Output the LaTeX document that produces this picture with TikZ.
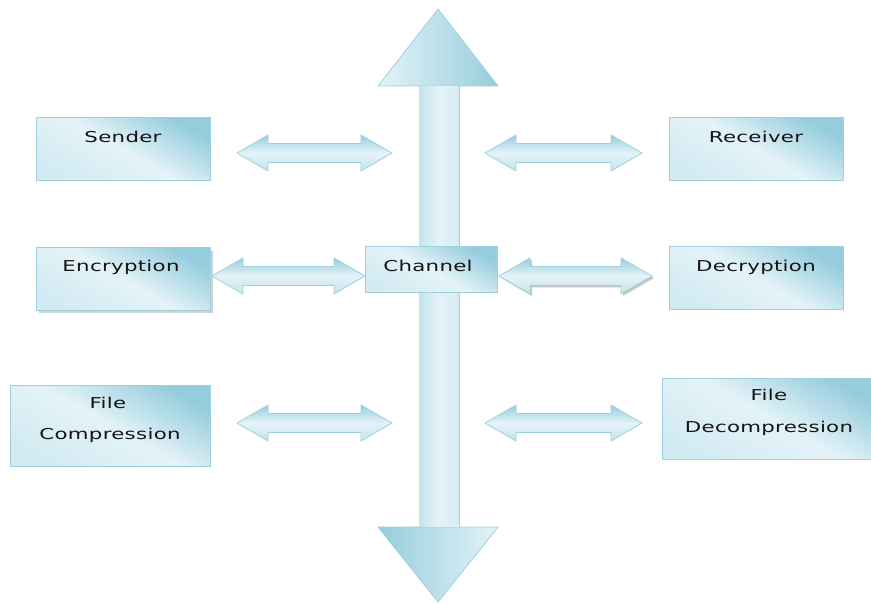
\documentclass[tikz,border=0pt]{standalone}
\usepackage{fontspec}
\newfontfamily\labfont[FakeStretch=1.42, LetterSpace=2]{DejaVu Sans}
\definecolor{edge}{RGB}{158,208,222}
\definecolor{bdark}{RGB}{150,205,221}
\definecolor{bmid}{RGB}{196,228,237}
\definecolor{blight}{RGB}{228,243,248}
\definecolor{txt}{RGB}{20,20,20}
\tikzset{
  box/.style={draw=edge, line width=1pt, inner sep=0pt, top color=bdark, bottom color=bmid!55!blight, middle color=blight, shading angle=-30},
  lbl/.style={font=\labfont\fontsize{15}{18}\selectfont, text=txt, anchor=base, inner sep=0pt},
  harr/.style={draw=edge, line width=0.8pt, top color=bdark, bottom color=bmid, middle color=blight},
  vshaft/.style={draw=edge, line width=0.8pt, left color=bmid, right color=blight!60!bmid, middle color=blight},
  headup/.style={draw=edge, line width=0.8pt, left color=blight, right color=bdark},
  headdown/.style={draw=edge, line width=0.8pt, left color=bdark, right color=blight},
  shadowc/.style={fill=black!22},
}
\newcommand\hdbl[4]{%
  \path[#4] (#1,#3) -- (#1+31,#3-18) -- (#1+31,#3-9.5) -- (#2-31,#3-9.5) -- (#2-31,#3-18)
    -- (#2,#3) -- (#2-31,#3+18) -- (#2-31,#3+9.5) -- (#1+31,#3+9.5) -- (#1+31,#3+18) -- cycle;}
\begin{document}
\begin{tikzpicture}[x=1pt,y=-1pt]
\useasboundingbox (0,0) rectangle (871,604);
% vertical channel arrow
\path[vshaft] (419,85) rectangle (459,528);
\path[headup] (438,9) -- (498,86) -- (378,86) -- cycle;
\path[headdown] (438,602) -- (378,527) -- (498,527) -- cycle;
\path[left color=bmid, right color=blight!60!bmid, middle color=blight] (419.4,86.4) rectangle (458.6,526.6);
% boxes
\node[box, minimum width=174pt, minimum height=63pt] (sender) at (123,149.5) {};
\node[box, minimum width=174pt, minimum height=63pt] (receiver) at (756,149.5) {};
\fill[black!18] (39,251) rectangle (212.5,313.5);
\node[box, minimum width=174pt, minimum height=63pt] (encryption) at (123,279) {};
\node[box, minimum width=174pt, minimum height=63pt] (decryption) at (756,278.5) {};
\node[box, minimum width=200pt, minimum height=81pt] (filecomp) at (110,425.5) {};
\node[box, minimum width=216pt, minimum height=81pt] (filedecomp) at (770,418.5) {};
\node[box, minimum width=132pt, minimum height=46pt] (channel) at (431,270) {};
% labels
\node[lbl] (senderT) at (123,143) {Sender};
\node[lbl] (receiverT) at (756,143) {Receiver};
\node[lbl] (encryptionT) at (121,272) {Encryption};
\node[lbl] (decryptionT) at (756,272) {Decryption};
\node[lbl] (channelT) at (428,272) {Channel};
\node[lbl] (filecompA) at (108,408) {File};
\node[lbl] (filecompB) at (110,439) {Compression};
\node[lbl] (filedecompA) at (769,400) {File};
\node[lbl] (filedecompB) at (769,432) {Decompression};
% double block arrows
\hdbl{237}{392}{153}{harr}
\hdbl{485}{642}{153}{harr}
\hdbl{212}{365}{276}{harr}
\hdbl{501}{654}{278}{shadowc}
\hdbl{499}{652}{276}{harr}
\hdbl{237}{392}{423}{harr}
\hdbl{485}{642}{423}{harr}
\end{tikzpicture}
\end{document}
